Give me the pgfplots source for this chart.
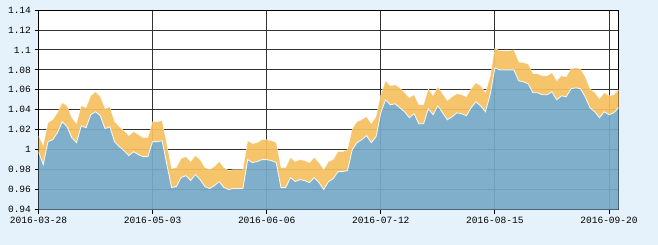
\documentclass[border=0pt]{standalone}
\usepackage{pgfplots}
\pgfplotsset{compat=1.18}
\usepackage{pgfplotstable}
\usepgfplotslibrary{fillbetween}
\usepackage{fontspec}
\setmainfont{Liberation Mono}
\definecolor{bgc}{HTML}{E6F2FB}
\definecolor{bluef}{HTML}{76A9C6}
\definecolor{orangef}{HTML}{F5C060}
\definecolor{gridc}{HTML}{333333}
\pgfplotstableread{
i lo hi
0 0.998 1.014
1 0.985 1.004
2 1.008 1.027
3 1.010 1.030
4 1.017 1.037
5 1.028 1.047
6 1.023 1.044
7 1.012 1.032
8 1.007 1.026
9 1.024 1.044
10 1.022 1.042
11 1.035 1.054
12 1.038 1.058
13 1.034 1.053
14 1.021 1.041
15 1.023 1.043
16 1.008 1.028
17 1.003 1.023
18 0.999 1.019
19 0.994 1.014
20 0.998 1.018
21 0.995 1.015
22 0.993 1.012
23 0.993 1.012
24 1.008 1.028
25 1.008 1.028
26 1.009 1.029
27 0.985 1.005
28 0.962 0.981
29 0.963 0.982
30 0.972 0.991
31 0.974 0.993
32 0.969 0.988
33 0.975 0.994
34 0.970 0.990
35 0.963 0.982
36 0.961 0.980
37 0.964 0.983
38 0.968 0.988
39 0.962 0.982
40 0.960 0.979
41 0.961 0.980
42 0.961 0.980
43 0.961 0.980
44 0.990 1.009
45 0.987 1.006
46 0.988 1.007
47 0.990 1.010
48 0.990 1.010
49 0.989 1.009
50 0.987 1.007
51 0.962 0.982
52 0.962 0.982
53 0.972 0.992
54 0.968 0.988
55 0.970 0.990
56 0.969 0.989
57 0.967 0.987
58 0.972 0.992
59 0.967 0.987
60 0.960 0.980
61 0.968 0.988
62 0.971 0.990
63 0.978 0.998
64 0.978 0.998
65 0.979 1.000
66 1.000 1.021
67 1.007 1.028
68 1.010 1.030
69 1.014 1.033
70 1.007 1.026
71 1.013 1.033
72 1.037 1.055
73 1.050 1.069
74 1.045 1.064
75 1.046 1.065
76 1.042 1.062
77 1.038 1.057
78 1.032 1.052
79 1.036 1.055
80 1.026 1.045
81 1.026 1.045
82 1.041 1.061
83 1.035 1.054
84 1.044 1.063
85 1.037 1.056
86 1.030 1.049
87 1.033 1.053
88 1.037 1.056
89 1.036 1.055
90 1.034 1.053
91 1.042 1.061
92 1.048 1.067
93 1.044 1.064
94 1.038 1.057
95 1.055 1.073
96 1.082 1.102
97 1.080 1.099
98 1.080 1.099
99 1.080 1.099
100 1.080 1.100
101 1.069 1.088
102 1.068 1.087
103 1.066 1.086
104 1.057 1.076
105 1.057 1.076
106 1.055 1.074
107 1.055 1.074
108 1.058 1.077
109 1.050 1.069
110 1.054 1.074
111 1.053 1.073
112 1.061 1.081
113 1.062 1.082
114 1.061 1.081
115 1.053 1.073
116 1.042 1.061
117 1.038 1.057
118 1.032 1.051
119 1.038 1.057
120 1.035 1.054
121 1.037 1.055
122 1.042 1.060
}\datatab
\pagecolor{bgc}
\begin{document}
\begin{tikzpicture}
\begin{axis}[
  at={(0,0)}, anchor=south west,
  scale only axis,
  width=580bp, height=199.5bp,
  xmin=0, xmax=122,
  ymin=0.94, ymax=1.14,
  xtick={0,24,48,72,96,120},
  xticklabels={2016-03-28,2016-05-03,2016-06-06,2016-07-12,2016-08-15,2016-09-20},
  ytick={0.94,0.96,...,1.141},
  grid=major,
  major grid style={gridc, line width=0.8bp},
  axis line style={black, line width=0.8bp},
  tick style={black, line width=0.8bp},
  tick align=outside,
  major tick length=4bp,
  xtick pos=bottom, ytick pos=left,
  axis background/.style={fill=white},
  tick label style={font=\fontsize{9.6}{11}\selectfont},
  /pgf/number format/assume math mode=true,
]
\addplot[name path=lo, draw=none] table[x=i, y=lo] {\datatab};
\addplot[name path=hi, draw=none] table[x=i, y=hi] {\datatab};
\addplot[fill=orangef, fill opacity=0.93, draw=none] fill between[of=lo and hi];
\addplot[fill=bluef, fill opacity=0.93, draw=none] table[x=i, y=lo] {\datatab} \closedcycle;
\addplot[white, line width=0.9bp, opacity=0.85] table[x=i, y=lo] {\datatab};
\addplot[white, line width=0.6bp, opacity=0.5] table[x=i, y=hi] {\datatab};
\end{axis}
\useasboundingbox (-38.5bp,-35.5bp) rectangle (619.5bp,209.5bp);
\end{tikzpicture}
\end{document}
